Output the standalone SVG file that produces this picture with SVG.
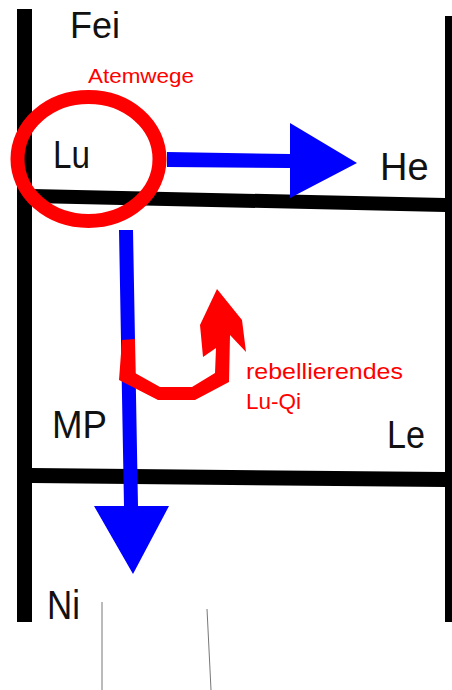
<svg xmlns="http://www.w3.org/2000/svg" width="452" height="690" viewBox="0 0 452 690">
<style>
.bar{stroke:#000;stroke-width:14;fill:none}
.lbl{font-family:"Liberation Sans",Arial,sans-serif;fill:#111}
.red{font-family:"Liberation Sans",Arial,sans-serif;fill:#f00}
.blue{fill:#00f}
</style>
<rect width="452" height="690" fill="#fff"/>
<g id="frame">
<rect x="17" y="9" width="15" height="613" fill="#000"/>
<rect x="445" y="16" width="8" height="606" fill="#000"/>
<polygon points="32,189 445,198 445,212 32,203" fill="#000"/>
<polygon points="32,468 445,472 445,487 32,483" fill="#000"/>
</g>
<g id="thin-lines" stroke="#777" stroke-width="1">
<line x1="102" y1="602" x2="102" y2="690"/>
<line x1="207" y1="609" x2="211" y2="690"/>
</g>
<g id="Fei"><text class="lbl" x="70" y="38" font-size="36">Fei</text></g>
<g id="Atemwege"><text class="red" x="88" y="83" font-size="21" textLength="106" lengthAdjust="spacingAndGlyphs">Atemwege</text></g>
<g id="Lu">
<ellipse cx="88.5" cy="159" rx="71" ry="62" fill="none" stroke="#f00" stroke-width="14"/>
<text class="lbl" x="53" y="168" font-size="38" textLength="37" lengthAdjust="spacingAndGlyphs">Lu</text>
</g>
<g id="He"><text class="lbl" x="380" y="180" font-size="38">He</text></g>
<g id="MP"><text class="lbl" x="52" y="438" font-size="38" textLength="55" lengthAdjust="spacingAndGlyphs">MP</text></g>
<g id="Le"><text class="lbl" x="387" y="448" font-size="39" textLength="38" lengthAdjust="spacingAndGlyphs">Le</text></g>
<g id="Ni"><text class="lbl" x="47" y="619" font-size="40" textLength="33" lengthAdjust="spacingAndGlyphs">Ni</text></g>
<g id="rebellierendes-Lu-Qi">
<text class="red" x="246" y="379" font-size="22" textLength="157" lengthAdjust="spacingAndGlyphs">rebellierendes</text>
<text class="red" x="246" y="409" font-size="22" textLength="55" lengthAdjust="spacingAndGlyphs">Lu-Qi</text>
</g>
<g id="connectors">
<polygon class="blue" points="167,152 290,154 290,123 357,163 290,198 290,168 167,167"/>
<polygon class="blue" points="119,230 133,230 138,506 169,506 133,574 94,506 124,506"/>
<polygon fill="#f00" points="122,340 135,339 135,373 160,387 192,387 215,373 216,348 203,357 200,325 217,289 242,320 246,352 230,335 229,382 195,400 158,400 119,380"/>
</g>
</svg>
